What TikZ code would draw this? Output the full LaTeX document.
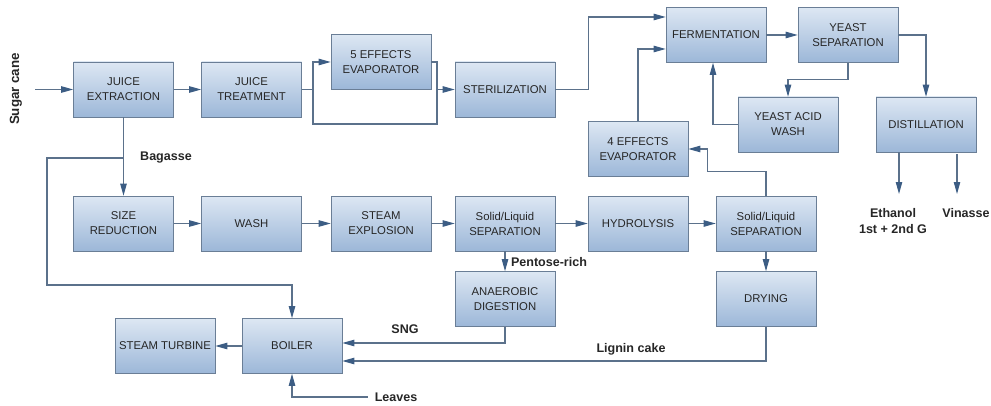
\documentclass[tikz,border=0pt]{standalone}
\usepackage{fontspec}
\setmainfont{Liberation Sans}
\usetikzlibrary{arrows.meta,calc,positioning,shapes}
\definecolor{boxtop}{HTML}{DDE7F3}
\definecolor{boxbot}{HTML}{9CB7D8}
\definecolor{boxline}{HTML}{6A7E96}
\definecolor{flowline}{HTML}{5B718B}
\definecolor{tipfill}{HTML}{3C5D84}
\tikzstyle{process} = [rectangle, minimum width=75pt, minimum height=41.25pt, align=center, draw=boxline, top color=boxtop, bottom color=boxbot, text=black!85, font=\fontsize{8.5}{11.25}\selectfont, inner sep=1pt]
\tikzstyle{tag} = [font=\bfseries\fontsize{9.4}{12}\selectfont, text=black!85, align=center, inner sep=1pt]
\tikzstyle{link} = [draw=flowline, line width=0.8pt]
\tikzstyle{arrow} = [link, -{Triangle[length=9pt,width=4.8pt,color=tipfill]}]
\begin{document}
\begin{tikzpicture}[x=0.75pt, y=-0.75pt]
\useasboundingbox (0,0) rectangle (991,406);
% first generation line
\node (jext) [process] at (123.5,89.5) {JUICE\\EXTRACTION};
\node (jtreat) [process] at (251.5,89.5) {JUICE\\TREATMENT};
\node (evap5) [process] at (381,62) {5 EFFECTS\\EVAPORATOR};
\node (steril) [process] at (505,89.5) {STERILIZATION};
\node (ferm) [process] at (716,35) {FERMENTATION};
\node (ysep) [process] at (848,35) {YEAST\\SEPARATION};
\node (yacid) [process] at (788,124.5) {YEAST ACID\\WASH};
\node (dist) [process] at (926,124.5) {DISTILLATION};
\node (evap4) [process] at (638,149) {4 EFFECTS\\EVAPORATOR};
% second generation line
\node (size) [process] at (123.5,223.5) {SIZE\\REDUCTION};
\node (wash) [process] at (251.5,223.5) {WASH};
\node (steam) [process] at (381,223.5) {STEAM\\EXPLOSION};
\node (sl1) [process] at (505,223.5) {Solid/Liquid\\SEPARATION};
\node (hydro) [process] at (638,223.5) {HYDROLYSIS};
\node (sl2) [process] at (766,223.5) {Solid/Liquid\\SEPARATION};
\node (anaer) [process] at (505,299) {ANAEROBIC\\DIGESTION};
\node (dry) [process] at (766,299) {DRYING};
\node (boiler) [process] at (292,346) {BOILER};
\node (turb) [process] at (165,346) {STEAM TURBINE};
% streams
\node (cane) [tag, rotate=90, font=\bfseries\fontsize{10}{12}\selectfont] at (16,89) {Sugar cane};
\node (bagasse) [tag] at (166,158) {Bagasse};
\node (pentose) [tag] at (549,262) {Pentose-rich};
\node (sng) [tag] at (405,329) {SNG};
\node (lignin) [tag] at (631,349) {Lignin cake};
\node (leaves) [tag] at (396,397) {Leaves};
\node (ethanol) [tag] at (893,221) {Ethanol\\1st + 2nd G};
\node (vinasse) [tag] at (966,213) {Vinasse};
\coordinate (canein) at (35,89.5);
\coordinate (bag) at (123.5,158);
\coordinate (bagleft) at (47,285);
\coordinate (split) at (313,89.5);
\coordinate (bypass) at (437,124);
\coordinate (merge) at (437,89.5);
\coordinate (ethout) at (899,194);
\coordinate (vinout) at (957,194);

\draw [arrow] (canein) -- (jext);
\draw [arrow] (jext) -- (jtreat);
\draw [arrow] (jtreat) -- (split) |- (evap5.west);
\draw [link] (split) |- (bypass) -- (merge);
\draw [arrow] (evap5.east) -| (merge) -- (steril.west);
\draw [arrow] (steril.east) -- ++(33,0) |- ([yshift=13.5pt]ferm.west);
\draw [arrow] (evap4.north) |- ([yshift=-10.5pt]ferm.west);
\draw [arrow] (ferm) -- (ysep);
\draw [arrow] (ysep.south) -- ++(0,17) -| (yacid.north);
\draw [arrow] (yacid.west) -| ([xshift=-2.25pt]ferm.south);
\draw [arrow] (ysep.east) -| (dist.north);
\draw [arrow] (dist.south -| ethout) -- (ethout);
\draw [arrow] ([yshift=-1.5pt]dist.south -| vinout) -- (vinout);

\draw [arrow] (jext) -- (size);
\draw [arrow] (bag) -| (bagleft) -| (boiler.north);
\draw [arrow] (size) -- (wash);
\draw [arrow] (wash) -- (steam);
\draw [arrow] (steam) -- (sl1);
\draw [arrow] (sl1) -- (hydro);
\draw [arrow] (hydro) -- (sl2);
\draw [arrow] (sl1) -- (anaer);
\draw [arrow] (sl2) -- (dry);
\draw [arrow] (sl2.north) -- ++(0,-24) -| ([xshift=14.25pt]evap4.east) -- (evap4.east);
\draw [arrow] (anaer.south) |- ([yshift=2.25pt]boiler.east);
\draw [arrow] (dry.south) |- ([yshift=-11.25pt]boiler.east);
\draw [arrow] ([xshift=-4pt]leaves.west) -| (boiler.south);
\draw [arrow] (boiler) -- (turb);
\end{tikzpicture}
\end{document}
